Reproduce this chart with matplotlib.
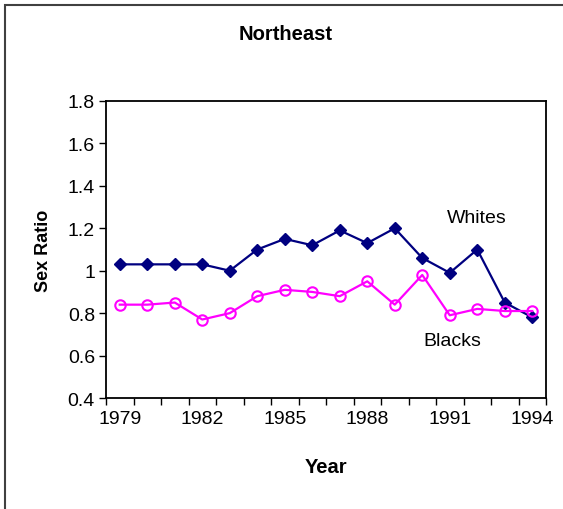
import matplotlib
matplotlib.use("Agg")
import matplotlib.pyplot as plt
from matplotlib.patches import Rectangle

plt.rcParams['font.family'] = ['Liberation Sans', 'DejaVu Sans']

years = list(range(1979, 1995))
whites = [1.03, 1.03, 1.03, 1.03, 1.00, 1.10, 1.15, 1.12, 1.19, 1.13, 1.20, 1.06, 0.99, 1.10, 0.85, 0.78]
blacks = [0.84, 0.84, 0.85, 0.77, 0.80, 0.88, 0.91, 0.90, 0.88, 0.95, 0.84, 0.98, 0.79, 0.82, 0.81, 0.81]
y_ticks = [0.4, 0.6, 0.8, 1.0, 1.2, 1.4, 1.6, 1.8]
y_tick_labels = ['0.4', '0.6', '0.8', '1', '1.2', '1.4', '1.6', '1.8']
year_labels = [1979, 1982, 1985, 1988, 1991, 1994]

W, H, DPI = 563, 510, 100
fig = plt.figure(figsize=(W / DPI, H / DPI), dpi=DPI)

# outer chart frame
fig.patches.append(Rectangle((5 / W, -0.1), 1.2, (1 - 6 / H) + 0.1,
                             transform=fig.transFigure, fill=False,
                             edgecolor='#404040', linewidth=1.5))

left, right, top, bottom = 106, 546, 102, 399
ax = fig.add_axes([left / W, 1 - bottom / H, (right - left) / W, (bottom - top) / H])

idx = list(range(len(years)))
ax.plot(idx, whites, color='#000080', linewidth=1.6, marker='D', markersize=6,
        markerfacecolor='#000080', markeredgecolor='#000080')
ax.plot(idx, blacks, color='#FF00FF', linewidth=1.6, marker='o', markersize=7.5,
        markerfacecolor='none', markeredgecolor='#FF00FF', markeredgewidth=1.5)

ax.set_xlim(-0.5, len(years) - 0.5)
ax.set_ylim(0.4, 1.8)
ax.set_yticks(y_ticks)
ax.set_yticklabels(y_tick_labels)
ax.set_xticks([i - 0.5 for i in range(len(years) + 1)])
ax.set_xticklabels([])
ax.set_xticks([years.index(y) for y in year_labels], minor=True)
ax.set_xticklabels([str(y) for y in year_labels], minor=True)
ax.tick_params(axis='x', which='minor', length=0, pad=9, labelsize=14)
ax.tick_params(axis='x', which='major', length=5, width=1, direction='out')
ax.tick_params(axis='y', length=5, width=1, direction='out', labelsize=14, pad=3)
for s in ax.spines.values():
    s.set_linewidth(1.3)
    s.set_color('black')

ax.set_xlabel('Year', fontsize=14.5, fontweight='bold', labelpad=21)
ax.set_ylabel('Sex Ratio', fontsize=13, fontweight='bold', labelpad=11)

ax.text(13.0, 1.25, 'Whites', fontsize=14, ha='center', va='center')
ax.text(12.1, 0.67, 'Blacks', fontsize=14, ha='center', va='center')

fig.text(286 / W, 1 - 34 / H, 'Northeast', fontsize=14.5, fontweight='bold',
         ha='center', va='center')

fig.savefig('out.png', dpi=DPI)
